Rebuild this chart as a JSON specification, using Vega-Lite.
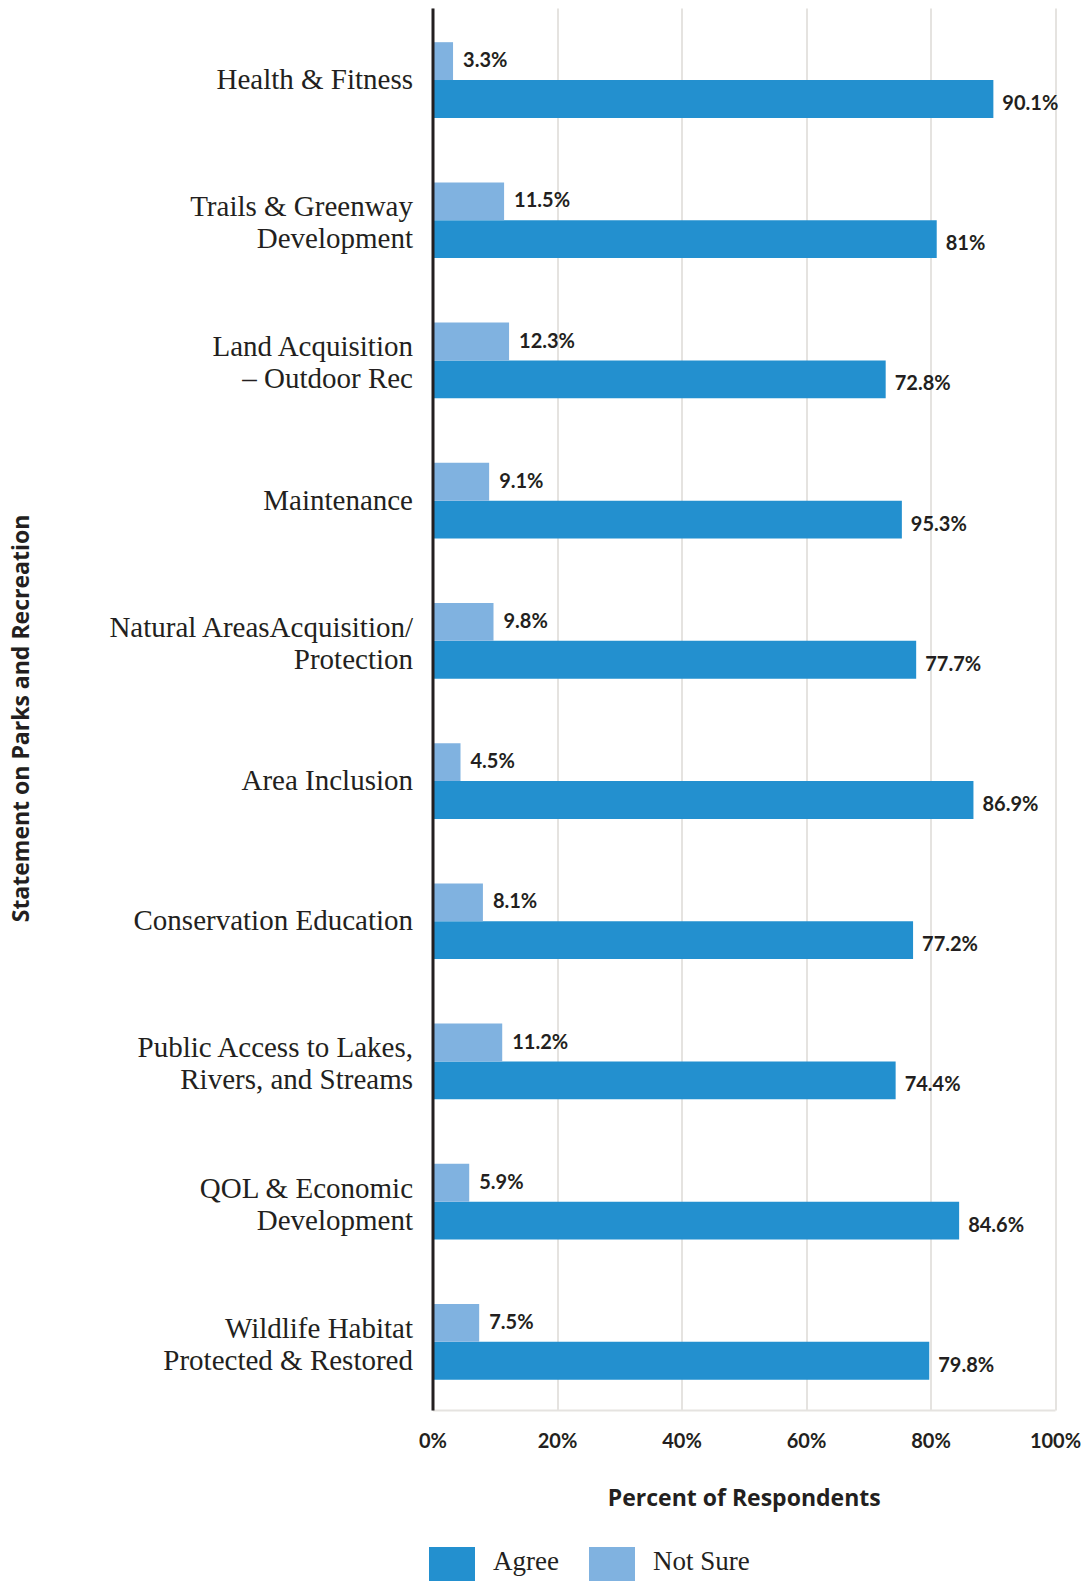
{
  "$schema": "https://vega.github.io/schema/vega-lite/v6.json",
  "width": 622.5,
  "height": 1402,
  "autosize": {"type": "none"},
  "padding": {"left": 432.5, "top": 8, "right": 31, "bottom": 171},
  "background": "white",
  "config": {"view": {"stroke": null}, "font": "Lato"},
  "data": {
    "values": [
      {"category": "Health & Fitness", "type": "Agree", "value": 90.1, "label": "90.1%"},
      {"category": "Health & Fitness", "type": "Not Sure", "value": 3.3, "label": "3.3%"},
      {"category": "Trails & Greenway|Development", "type": "Agree", "value": 81, "label": "81%"},
      {"category": "Trails & Greenway|Development", "type": "Not Sure", "value": 11.5, "label": "11.5%"},
      {"category": "Land Acquisition|– Outdoor Rec", "type": "Agree", "value": 72.8, "label": "72.8%"},
      {"category": "Land Acquisition|– Outdoor Rec", "type": "Not Sure", "value": 12.3, "label": "12.3%"},
      {"category": "Maintenance", "type": "Agree", "value": 75.4, "label": "95.3%"},
      {"category": "Maintenance", "type": "Not Sure", "value": 9.1, "label": "9.1%"},
      {"category": "Natural AreasAcquisition/|Protection", "type": "Agree", "value": 77.7, "label": "77.7%"},
      {"category": "Natural AreasAcquisition/|Protection", "type": "Not Sure", "value": 9.8, "label": "9.8%"},
      {"category": "Area Inclusion", "type": "Agree", "value": 86.9, "label": "86.9%"},
      {"category": "Area Inclusion", "type": "Not Sure", "value": 4.5, "label": "4.5%"},
      {"category": "Conservation Education", "type": "Agree", "value": 77.2, "label": "77.2%"},
      {"category": "Conservation Education", "type": "Not Sure", "value": 8.1, "label": "8.1%"},
      {"category": "Public Access to Lakes,|Rivers, and Streams", "type": "Agree", "value": 74.4, "label": "74.4%"},
      {"category": "Public Access to Lakes,|Rivers, and Streams", "type": "Not Sure", "value": 11.2, "label": "11.2%"},
      {"category": "QOL & Economic|Development", "type": "Agree", "value": 84.6, "label": "84.6%"},
      {"category": "QOL & Economic|Development", "type": "Not Sure", "value": 5.9, "label": "5.9%"},
      {"category": "Wildlife Habitat|Protected & Restored", "type": "Agree", "value": 79.8, "label": "79.8%"},
      {"category": "Wildlife Habitat|Protected & Restored", "type": "Not Sure", "value": 7.5, "label": "7.5%"}
    ]
  },
  "encoding": {
    "y": {
      "field": "category",
      "type": "nominal",
      "sort": ["Health & Fitness", "Trails & Greenway|Development", "Land Acquisition|– Outdoor Rec", "Maintenance", "Natural AreasAcquisition/|Protection", "Area Inclusion", "Conservation Education", "Public Access to Lakes,|Rivers, and Streams", "QOL & Economic|Development", "Wildlife Habitat|Protected & Restored"],
      "scale": {"paddingInner": 0.46, "paddingOuter": 0.23, "align": 0.53},
      "axis": {
        "zindex": 2,
        "grid": false,
        "domain": true,
        "domainColor": "#231f20",
        "domainWidth": 3,
        "ticks": false,
        "labelExpr": "split(datum.label, '|')",
        "labelOffset": {"condition": {"test": "indexof(datum.value, '|') >= 0", "value": -13}, "value": 0},
        "labelPadding": 20,
        "labelFont": "Liberation Serif",
        "labelFontSize": 29,
        "labelLineHeight": 32,
        "labelColor": "#231f20",
        "labelLimit": 600,
        "title": "Statement on Parks and Recreation",
        "titleFont": "Open Sans",
        "titleFontSize": 23,
        "titleFontWeight": "bold",
        "titleColor": "#231f20",
        "titleAngle": 270,
        "titleAlign": "center",
        "titleBaseline": "alphabetic",
        "titleX": -404,
        "titleY": 710
      }
    },
    "yOffset": {"field": "type", "type": "nominal", "sort": ["Not Sure", "Agree"]},
    "x": {
      "field": "value",
      "type": "quantitative",
      "scale": {"domain": [0, 100], "nice": false},
      "axis": {
        "values": [0, 20, 40, 60, 80, 100],
        "labelExpr": "datum.value + '%'",
        "grid": true,
        "gridColor": "#e5e3e0",
        "gridWidth": 2,
        "domain": true,
        "domainColor": "#e5e3e0",
        "domainWidth": 2,
        "ticks": false,
        "labelPadding": 21,
        "labelFont": "Lato",
        "labelFontSize": 20,
        "labelFontWeight": "bold",
        "labelColor": "#231f20",
        "labelFlush": false,
        "title": "Percent of Respondents",
        "titleFont": "Open Sans",
        "titleFontSize": 23,
        "titleFontWeight": "bold",
        "titleColor": "#231f20",
        "titleBaseline": "alphabetic",
        "titleY": 95
      }
    }
  },
  "layer": [
    {
      "mark": {"type": "bar"},
      "encoding": {
        "color": {
          "field": "type",
          "type": "nominal",
          "scale": {"domain": ["Agree", "Not Sure"], "range": ["#2390cf", "#80b2e0"]},
          "legend": {
            "orient": "none",
            "legendX": -3.5,
            "legendY": 1539,
            "direction": "horizontal",
            "title": null,
            "padding": 0,
            "symbolType": "square",
            "symbolSize": 2116,
            "symbolStrokeWidth": 0,
            "symbolOpacity": 1,
            "labelFont": "Liberation Serif",
            "labelFontSize": 27,
            "labelColor": "#231f20",
            "labelOffset": 18,
            "labelBaseline": "alphabetic",
            "columnPadding": 30
          }
        }
      }
    },
    {
      "transform": [{"filter": "datum.type == 'Not Sure'"}],
      "mark": {"type": "text", "align": "left", "baseline": "middle", "dx": 10, "font": "Lato", "fontSize": 20, "fontWeight": "bold", "color": "#231f20"},
      "encoding": {"text": {"field": "label", "type": "nominal"}}
    },
    {
      "transform": [{"filter": "datum.type == 'Agree'"}],
      "mark": {"type": "text", "align": "left", "baseline": "middle", "dx": 9, "dy": 5, "font": "Lato", "fontSize": 20, "fontWeight": "bold", "color": "#231f20"},
      "encoding": {"text": {"field": "label", "type": "nominal"}}
    }
  ]
}
